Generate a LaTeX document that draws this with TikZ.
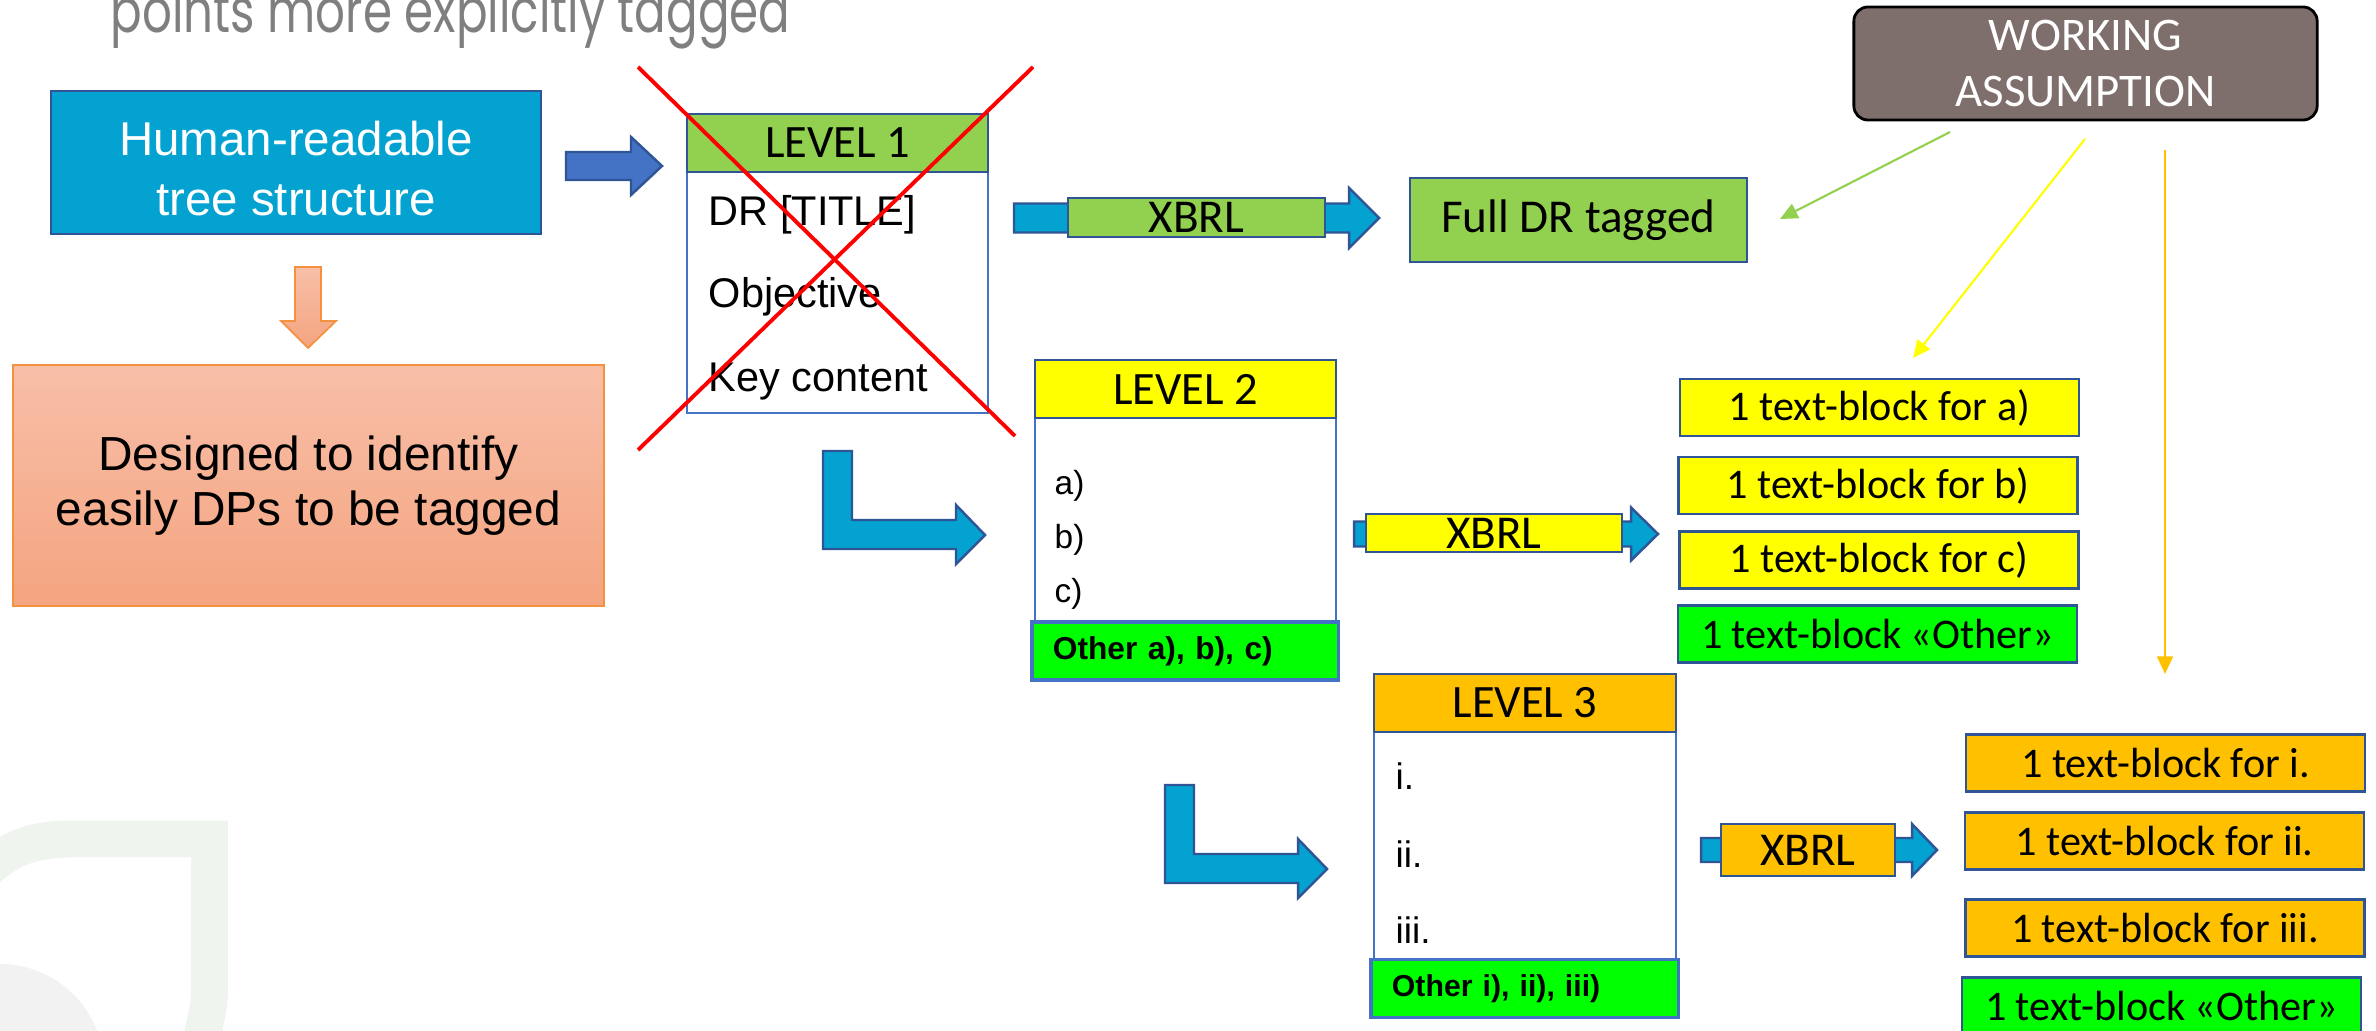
\documentclass[tikz,border=0pt]{standalone}
\usepackage{fontspec}
\setmainfont{Liberation Sans}
\newfontfamily\calibri{Carlito}
\newfontfamily\gothic{Poppins}
\usetikzlibrary{arrows.meta}

\definecolor{navyline}{HTML}{2F5597}
\definecolor{midblue}{HTML}{4472C4}
\definecolor{cyanbox}{HTML}{03A2D0}
\definecolor{limebox}{HTML}{92D050}
\definecolor{yellowbox}{HTML}{FFFF00}
\definecolor{greenbox}{HTML}{00FF00}
\definecolor{amberbox}{HTML}{FFC000}
\definecolor{salmontop}{HTML}{F8BFA8}
\definecolor{salmonbot}{HTML}{F4A480}
\definecolor{salmonline}{HTML}{F4913F}
\definecolor{workbrown}{HTML}{7F6F6C}
\definecolor{titlegray}{HTML}{7F7F7F}
\definecolor{logogreen}{HTML}{EFF4EE}
\definecolor{logogray}{HTML}{F2F2F2}
\definecolor{crossred}{HTML}{FF0000}

\begin{document}
\begin{tikzpicture}[x=0.01cm, y=-0.01cm,
  box/.style={draw=navyline, line width=0.7pt, inner sep=0pt, align=center},
  body/.style={draw=midblue, line width=0.6pt, fill=white, inner sep=0pt, minimum width=3.01cm},
  header/.style={box, font=\calibri\fontsize{13.2}{15}\selectfont, minimum width=3.01cm, minimum height=0.58cm},
  item/.style={anchor=base west, inner sep=0pt},
  otherbar/.style={draw=midblue, line width=0.9pt, fill=greenbox, inner xsep=0.21cm, inner ysep=0pt,
    align=left, minimum height=0.58cm, font=\bfseries\fontsize{9}{10}\selectfont},
  tblock/.style={box, font=\calibri\fontsize{12}{14}\selectfont, minimum width=3.99cm, minimum height=0.57cm},
  xbrl/.style={box, font=\calibri\fontsize{13.4}{15}\selectfont},
  blockarrow/.style={fill=cyanbox, draw=navyline, line width=0.7pt},
  pointer/.style={line width=0.6pt, -{Triangle[length=5pt, width=4.5pt]}},
  redx/.style={crossred, line width=1.1pt}]

  \useasboundingbox (0,0) rectangle (2376,1031);
  \clip (0,0) rectangle (2376,1031);

  % faint logo in the corner
  \fill[logogray] (0,1068) circle (104);
  \draw[logogreen, line width=10.5pt] (-25,880) .. controls (10,845) and (35,839) .. (75,839)
    -- (209.5,839) -- (209.5,990) .. controls (209.5,1005) and (206,1020) .. (200,1045);

  % title, cut at the top
  \node[anchor=base west, inner sep=0pt, text=titlegray, font=\gothic\fontsize{17.5}{20}\selectfont]
    (title) at (110,33) {\scalebox{0.76}[1]{points more explicitly tagged}};

  % left column
  \node[box, fill=cyanbox, text=white, font=\fontsize{13.5}{17}\selectfont,
    minimum width=4.90cm, minimum height=1.43cm] (human) at (296,162.5)
    {\rule{0pt}{13.4pt}Human-readable\\tree structure};
  \node[box, draw=salmonline, line width=0.6pt, top color=salmontop, bottom color=salmonbot,
    font=\fontsize{13.6}{15.5}\selectfont, minimum width=5.90cm, minimum height=2.41cm]
    (designed) at (308.5,485.5) {Designed to identify\\easily DPs to be tagged};
  \path[top color=salmontop, bottom color=salmonbot, draw=salmonline, line width=0.5pt]
    (295,267) -- (321,267) -- (321,321) -- (336,321) -- (308,348) -- (281,321) -- (295,321) -- cycle;
  \filldraw[fill=midblue, draw=navyline, line width=0.7pt]
    (566,152) -- (631,152) -- (631,137) -- (662,166) -- (631,195) -- (631,180) -- (566,180) -- cycle;

  % level 1 (crossed out)
  \node[body, minimum height=2.41cm] (lvl1body) at (837.5,292.5) {};
  \node[header, fill=limebox] (lvl1) at (837.5,143) {LEVEL 1};
  \node[item, font=\fontsize{11.8}{14}\selectfont] (l1title) at (708,226) {DR [TITLE]};
  \node[item, font=\fontsize{11.8}{14}\selectfont] (l1obj) at (708,308) {Objective};
  \node[item, font=\fontsize{11.8}{14}\selectfont] (l1key) at (708,392) {Key content};
  \draw[redx] (638,67) -- (1015,436);
  \draw[redx] (1033,67) -- (638,450);

  % level 2
  \node[body, minimum height=2.04cm] (lvl2body) at (1185.5,520) {};
  \node[header, fill=yellowbox] (lvl2) at (1185.5,389) {LEVEL 2};
  \foreach \n/\y/\t in {l2a/495/a), l2b/549/b), l2c/603/c)}
    \node[item, font=\fontsize{9.5}{11}\selectfont] (\n) at (1054,\y) {\t};
  \node[otherbar, text width=2.64cm] (lvl2other) at (1185,651) {Other a), b), c)};

  % level 3
  \node[body, minimum height=2.27cm, minimum width=3.02cm] (lvl3body) at (1525,845.5) {};
  \node[header, fill=amberbox, minimum width=3.02cm] (lvl3) at (1525,703) {LEVEL 3};
  \foreach \n/\y/\t in {l3i/789/i., l3ii/867/ii., l3iii/943/iii.}
    \node[item, font=\fontsize{10.5}{12}\selectfont] (\n) at (1395,\y) {\t};
  \node[otherbar, text width=2.65cm, font=\bfseries\fontsize{8.6}{10}\selectfont] (lvl3other) at (1524.5,988.5) {Other i), ii), iii)};

  % bent arrows down to the next level
  \foreach \dx/\dy in {0/0, 342/334}
    \filldraw[blockarrow, shift={(\dx,\dy)}]
      (823,451) -- (852,451) -- (852,520) -- (956,520) -- (956,505) -- (985,535)
      -- (956,564) -- (956,549) -- (823,549) -- cycle;

  % XBRL arrows (shaft start, head base, tip, centre, half shaft, half head)
  \foreach \xa/\xb/\xt/\yc/\s/\h in {1014/1349/1379/218/14.5/30, 1354/1631/1658/534/12.5/26.5, 1701/1912/1937/850/12/26}
    \filldraw[blockarrow] (\xa,\yc-\s) -- (\xb,\yc-\s) -- (\xb,\yc-\h) -- (\xt,\yc)
      -- (\xb,\yc+\h) -- (\xb,\yc+\s) -- (\xa,\yc+\s) -- cycle;
  \node[xbrl, fill=limebox, minimum width=2.57cm, minimum height=0.39cm] (xbrl1) at (1196.5,217.5) {XBRL};
  \node[xbrl, fill=yellowbox, minimum width=2.56cm, minimum height=0.38cm] (xbrl2) at (1494,533) {XBRL};
  \node[xbrl, fill=amberbox, minimum width=1.74cm, minimum height=0.52cm] (xbrl3) at (1808,850) {XBRL};

  % results
  \node[box, fill=limebox, font=\calibri\fontsize{13.4}{15}\selectfont, minimum width=3.37cm, minimum height=0.84cm]
    (fulldr) at (1578.5,220) {Full DR tagged};
  \foreach \n/\cx/\cy/\col/\t in {tba/1879.5/407.5/yellowbox/{1 text-block for a)},
      tbb/1878/485.5/yellowbox/{1 text-block for b)},
      tbc/1879/560/yellowbox/{1 text-block for c)},
      tbo2/1877.5/634/greenbox/{1 text-block «Other»},
      tbi/2165.5/763/amberbox/{1 text-block for i.},
      tbii/2164.5/841/amberbox/{1 text-block for ii.},
      tbiii/2165/928/amberbox/{1 text-block for iii.},
      tbo3/2161.5/1006/greenbox/{1 text-block «Other»}}
    \node[tblock, fill=\col] (\n) at (\cx,\cy) {\t};

  % working assumption and its pointers
  \node[draw=black, line width=0.8pt, fill=workbrown, rounded corners=4pt, text=white, align=center,
    inner sep=0pt, font=\calibri\fontsize{13.3}{16.2}\selectfont, minimum width=4.63cm, minimum height=1.13cm]
    (work) at (2085.5,63.5) {WORKING\\ASSUMPTION};
  \coordinate (wa-g) at (1950,132);
  \coordinate (wa-y) at (2085,139);
  \coordinate (wa-o) at (2165,150);
  \coordinate (to-full) at (1780,219);
  \coordinate (to-lvl2) at (1913,358);
  \coordinate (to-lvl3) at (2165,674);
  \draw[pointer, limebox] (wa-g) -- (to-full);
  \draw[pointer, yellowbox] (wa-y) -- (to-lvl2);
  \draw[pointer, amberbox] (wa-o) -- (to-lvl3);

\end{tikzpicture}
\end{document}
